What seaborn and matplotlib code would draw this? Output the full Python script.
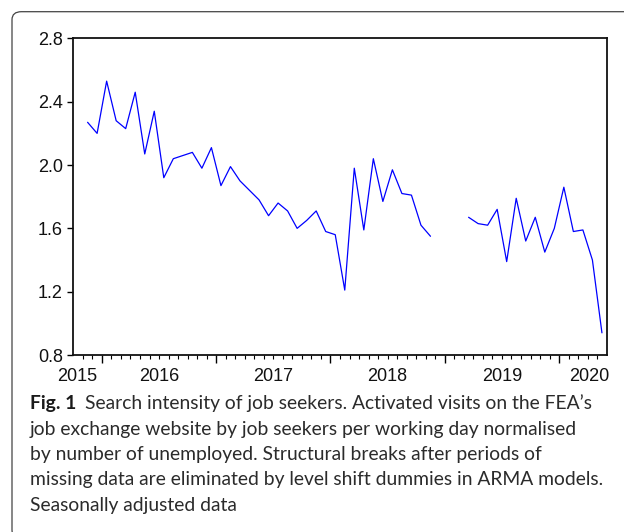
import numpy as np
import pandas as pd
import matplotlib
matplotlib.use("Agg")
import matplotlib.pyplot as plt
import seaborn as sns
from matplotlib.patches import FancyBboxPatch


# monthly observations Nov 2015 .. May 2020, gap Jul-Sep 2018
months = pd.period_range("2015-11", "2020-05", freq="M")
values = [2.27, 2.20, 2.53, 2.28, 2.23, 2.46, 2.07, 2.34, 1.92, 2.04,
          2.06, 2.08, 1.98, 2.11, 1.87, 1.99, 1.90, 1.84, 1.78, 1.68,
          1.76, 1.71, 1.60, 1.65, 1.71, 1.58, 1.56, 1.21, 1.98, 1.59,
          2.04, 1.77, 1.97, 1.82, 1.81, 1.62, 1.55,
          np.nan, np.nan, np.nan,
          1.67, 1.63, 1.62, 1.72, 1.39, 1.79, 1.52, 1.67, 1.45, 1.60,
          1.86, 1.58, 1.59, 1.40, 0.94]
year_labels = ["2015", "2016", "2017", "2018", "2019", "2020"]
y_ticks = [0.8, 1.2, 1.6, 2.0, 2.4, 2.8]

caption = [
    "job exchange website by job seekers per working day normalised",
    "by number of unemployed. Structural breaks after periods of",
    "missing data are eliminated by level shift dummies in ARMA models.",
    "Seasonally adjusted data",
]

df = pd.DataFrame({"month": months, "value": values})
# x in months counted from Oct 2015, points at the middle of each month
df["x"] = (df["month"].dt.year - 2015) * 12 + df["month"].dt.month - 10 + 0.5
df["segment"] = df["value"].isna().cumsum()

sns.set_theme(style="white")
plt.rcParams["font.family"] = ["Liberation Sans", "DejaVu Sans"]

W, H = 624, 532
fig = plt.figure(figsize=(W / 100, H / 100), dpi=100)
ax = fig.add_axes([73.3 / W, 1 - 355 / H, (606.7 - 73.3) / W, (355 - 38.4) / H])

sns.lineplot(data=df.dropna(), x="x", y="value", units="segment",
             estimator=None, color="blue", lw=0.9, ax=ax)

ax.set_xlim(0, 56)
ax.set_ylim(0.8, 2.8)
ax.set_xlabel("")
ax.set_ylabel("")
ax.set_yticks(y_ticks)
ax.set_yticklabels([f"{v:.1f}" for v in y_ticks])

year_starts = [3, 15, 27, 39, 51]
ax.set_xticks(year_starts)
ax.set_xticklabels([""] * len(year_starts))
ax.set_xticks([m for m in range(1, 56) if m not in year_starts], minor=True)
ax.tick_params(axis="x", which="major", direction="out", length=5.5, width=1,
               color="black", bottom=True)
ax.tick_params(axis="x", which="minor", direction="out", length=3, width=0.8,
               color="black", bottom=True)
ax.tick_params(axis="y", which="major", direction="out", length=4.5, width=1,
               color="black", left=True, pad=3, labelsize=13, labelcolor="#111111")

for s in ax.spines.values():
    s.set_color("#111111")
    s.set_linewidth(1.3)

label_pos = [0.4, 9, 21, 33, 45, 54.2]
for pos, lab in zip(label_pos, year_labels):
    ax.annotate(lab, xy=(pos, 0), xycoords=("data", "axes fraction"),
                xytext=(0, -9.5), textcoords="offset points",
                ha="center", va="top", fontsize=13, color="#111111")

# rounded frame around figure
frame = FancyBboxPatch((12 / W, 1 - 538 / H), (700 - 12) / W, (538 - 11.7) / H,
                       boxstyle="round,pad=0,rounding_size=0.015",
                       transform=fig.transFigure, fill=False,
                       edgecolor="#444444", lw=0.9, clip_on=False)
fig.patches.append(frame)

cap_font = ["Lato", "DejaVu Sans"]
cap_size = 13.9
cap_color = "#2b2b2b"
x0 = 30 / W
t1 = fig.text(x0, 1 - 409 / H, "Fig. 1", fontsize=cap_size, fontweight="bold",
              family=cap_font, color="#1a1a1a", va="baseline")
fig.canvas.draw()
bb = t1.get_window_extent()
fig.text((bb.x1 + 9) / W, 1 - 409 / H,
         "Search intensity of job seekers. Activated visits on the FEA\u2019s",
         fontsize=cap_size, family=cap_font, color=cap_color, va="baseline")
for i, line in enumerate(caption):
    fig.text(x0, 1 - (434.5 + 25.5 * i) / H, line, fontsize=cap_size,
             family=cap_font, color=cap_color, va="baseline")

fig.savefig("out.png", dpi=100)
